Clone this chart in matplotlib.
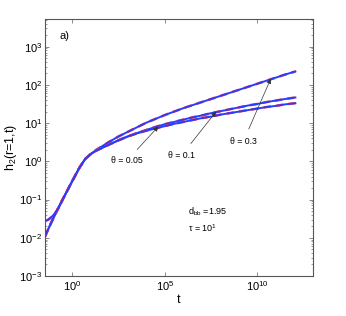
import numpy as np
import matplotlib.pyplot as plt
from matplotlib.ticker import LogLocator, NullFormatter, NullLocator

plt.rcParams['font.family'] = ['Liberation Sans', 'DejaVu Sans']
plt.rcParams['mathtext.fontset'] = 'custom'
plt.rcParams['mathtext.rm'] = 'Liberation Sans'
plt.rcParams['mathtext.it'] = 'Liberation Sans:italic'

# log10(t) and log10(h2)
logt_start = [-1.47, -1.3, -1.1, -0.9, -0.7, -0.5, 0.0, 0.4, 0.7, 1.0]
logh_start_low = [-1.97, -1.78, -1.57, -1.37, -1.17, -0.98, -0.52, -0.16, 0.06, 0.19]
logh_start_high = [-1.56, -1.53, -1.45, -1.34, -1.19, -0.99, -0.52, -0.16, 0.06, 0.19]

logt = [1.3, 2.0, 2.5, 3.0, 3.5, 4.0, 4.5, 5.0, 5.5, 6.0, 6.5, 7.0,
        7.5, 8.0, 8.5, 9.0, 9.5, 10.0, 10.5, 11.0, 11.5, 12.05]
logh_03 = [0.30, 0.51, 0.65, 0.77, 0.89, 1.01, 1.11, 1.21, 1.30, 1.39, 1.47, 1.55,
           1.63, 1.71, 1.79, 1.87, 1.95, 2.03, 2.11, 2.19, 2.27, 2.35]
logh_01 = [0.28, 0.44, 0.55, 0.65, 0.74, 0.82, 0.90, 0.97, 1.03, 1.09, 1.15, 1.20,
           1.26, 1.31, 1.36, 1.41, 1.46, 1.50, 1.55, 1.59, 1.63, 1.67]
logh_005 = [0.28, 0.44, 0.55, 0.65, 0.73, 0.80, 0.86, 0.92, 0.98, 1.03, 1.08, 1.13,
            1.17, 1.22, 1.26, 1.30, 1.34, 1.38, 1.42, 1.45, 1.49, 1.52]

curves = [
    (logh_start_low, logh_03),
    (logh_start_low, logh_01),
    (logh_start_high, logh_005),
]

# labels: (text, text pos log10, arrow tip log10)
labels = [
    ('θ = 0.05', (2.94, 0.01), (4.65, 0.91)),
    ('θ = 0.1', (5.91, 0.16), (7.77, 1.30)),
    ('θ = 0.3', (9.24, 0.52), (10.72, 2.16)),
]

fig = plt.figure(figsize=(3.46, 3.16), dpi=100)
ax = fig.add_axes([0.130, 0.1266, 0.7746, 0.813])

for start, rest in curves:
    x = 10 ** np.array(logt_start + logt)
    y = 10 ** np.array(start + rest)
    ax.plot(x, y, color='#ff3b3b', lw=1.8, ls=(0, (3, 2)))
    ax.plot(x, y, color='#2a3cff', lw=1.4)

for txt, (tx, ty), (px, py) in labels:
    ax.annotate(txt, xy=(10 ** px, 10 ** py), xytext=(10 ** tx, 10 ** ty),
                fontsize=6.3, ha='center', va='center',
                arrowprops=dict(arrowstyle='-|>', color='#333333', lw=0.5,
                                mutation_scale=7, shrinkA=4, shrinkB=0))

ax.text(10 ** 6.25, 10 ** -1.32, r'd$_{\mathrm{bb}}$ =1.95', fontsize=6.5, va='center')
ax.text(10 ** 6.25, 10 ** -1.74, r'τ = 10$^{\mathrm{1}}$', fontsize=6.5, va='center')
ax.text(0.056, 0.934, 'a)', transform=ax.transAxes, fontsize=8, va='center')

ax.set_xscale('log')
ax.set_yscale('log')
ax.set_xlim(10 ** -1.47, 10 ** 13.0)
ax.set_ylim(1e-3, 10 ** 3.72)
ax.set_xticks([1e0, 1e5, 1e10])
ax.xaxis.set_minor_locator(NullLocator())
ax.set_yticks([1e-3, 1e-2, 1e-1, 1e0, 1e1, 1e2, 1e3])
ax.yaxis.set_minor_locator(LogLocator(base=10, subs=np.arange(2, 10), numticks=20))
ax.yaxis.set_minor_formatter(NullFormatter())

ax.tick_params(which='both', direction='in', top=True, right=True,
               color='#777777', labelsize=8, pad=2)
ax.tick_params(which='major', length=3, width=0.6)
ax.tick_params(which='minor', length=1.5, width=0.5)
for s in ax.spines.values():
    s.set_color('#555555')
    s.set_linewidth(0.8)

ax.set_xlabel('t', fontsize=9, labelpad=1)
ax.set_ylabel('h$_{\\mathrm{2}}$(r=1,t)', fontsize=9, labelpad=0)

fig.savefig('out.png', dpi=100)
